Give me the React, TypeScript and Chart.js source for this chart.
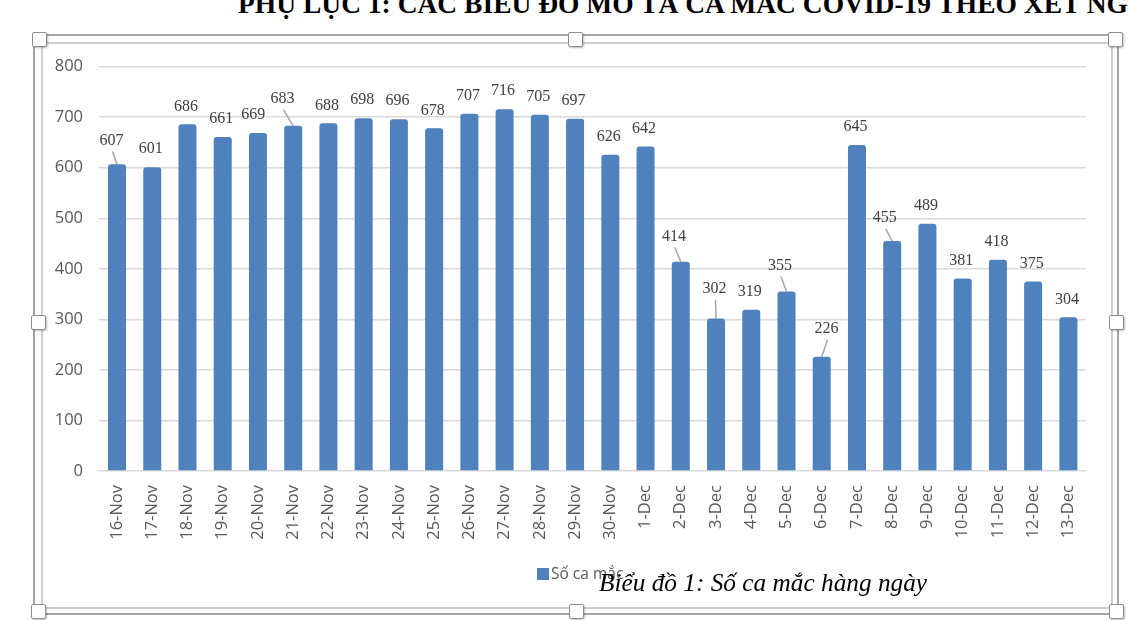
import React, { useEffect, useRef } from "react";
import { Chart, registerables } from "chart.js";

Chart.register(...registerables);

const categories = [
  "16-Nov", "17-Nov", "18-Nov", "19-Nov", "20-Nov", "21-Nov", "22-Nov",
  "23-Nov", "24-Nov", "25-Nov", "26-Nov", "27-Nov", "28-Nov", "29-Nov",
  "30-Nov", "1-Dec", "2-Dec", "3-Dec", "4-Dec", "5-Dec", "6-Dec",
  "7-Dec", "8-Dec", "9-Dec", "10-Dec", "11-Dec", "12-Dec", "13-Dec",
];

const cases = [
  607, 601, 686, 661, 669, 683, 688, 698, 696, 678, 707, 716, 705, 697,
  626, 642, 414, 302, 319, 355, 226, 645, 455, 489, 381, 418, 375, 304,
];

const seriesName = "Số ca mắc";
const yMin = 0;
const yMax = 800;
const yStep = 100;

const titleText = "PHỤ LỤC 1: CÁC BIỂU ĐỒ MÔ TẢ CA MẮC COVID-19 THEO XÉT NGHIỆM";
const captionText = "Biểu đồ 1: Số ca mắc hàng ngày";

// label placement (dx from bar centre, distance above bar top); moved labels get a leader line
const defaultLabelOffset: [number, number] = [-1.5, 19.3];
const movedLabels: Record<number, [number, number]> = {
  0: [-5.4, 24.7],
  4: [-4.7, 19.2],
  5: [-10.7, 28.3],
  16: [-6.9, 26.3],
  17: [-1.5, 30.7],
  19: [-6.5, 27.1],
  20: [4.8, 29],
  22: [-7.5, 24.3],
};
const leaderIdx = new Set([0, 5, 16, 17, 19, 20, 22]);

const BAR_BLUE = "#4f81bd";
const AXIS_TEXT = "#595959";
const GRID = "#d9d9d9";
const SANS = '"Open Sans", "Liberation Sans", sans-serif';
const SERIF = '"Liberation Serif", "Times New Roman", serif';

const W = 1128;
const H = 620;
const PLOT_LEFT = 99.4;
const PLOT_RIGHT = 1086;
const PLOT_TOP = 66.7;
const PLOT_BOTTOM = 471;

const valueLabels = {
  id: "valueLabels",
  afterDatasetsDraw(chart: any) {
    const ctx = chart.ctx;
    const meta = chart.getDatasetMeta(0);
    ctx.save();
    ctx.font = `16px ${SERIF}`;
    ctx.textAlign = "center";
    ctx.textBaseline = "alphabetic";
    meta.data.forEach((bar: any, i: number) => {
      const off = movedLabels[i] ?? defaultLabelOffset;
      const lx = bar.x + off[0];
      const ly = bar.y - off[1];
      if (leaderIdx.has(i)) {
        ctx.strokeStyle = "#a6a6a6";
        ctx.lineWidth = 1.5;
        ctx.beginPath();
        ctx.moveTo(lx + 1, ly + 12);
        ctx.lineTo(bar.x, bar.y);
        ctx.stroke();
      }
      ctx.fillStyle = "#404040";
      ctx.fillText(String(cases[i]), lx, ly + 5.5);
    });
    ctx.restore();
  },
};

function Handle({ x, y }: { x: number; y: number }) {
  return (
    <div
      style={{
        position: "absolute",
        left: x - 7,
        top: y - 7,
        width: 13,
        height: 13,
        background: "#fff",
        border: "1px solid #8f8f8f",
        borderRadius: 2,
        boxShadow: "1px 1px 2px rgba(0,0,0,0.25)",
      }}
    />
  );
}

export default function App() {
  const canvasRef = useRef<HTMLCanvasElement | null>(null);

  useEffect(() => {
    if (!canvasRef.current) return;
    const chart = new Chart(canvasRef.current, {
      type: "bar",
      data: {
        labels: categories,
        datasets: [
          {
            label: seriesName,
            data: cases,
            backgroundColor: BAR_BLUE,
            borderWidth: 0,
            borderRadius: { topLeft: 3, topRight: 3, bottomLeft: 0, bottomRight: 0 },
            borderSkipped: "start",
            barPercentage: 0.511,
            categoryPercentage: 1,
          },
        ],
      },
      options: {
        responsive: false,
        animation: false,
        devicePixelRatio: 1,
        layout: {
          padding: { left: 0, top: PLOT_TOP, right: W - PLOT_RIGHT, bottom: 0 },
        },
        plugins: {
          legend: { display: false },
          tooltip: { enabled: false },
          title: { display: false },
        },
        scales: {
          x: {
            grid: { display: false, drawTicks: false },
            border: { display: false },
            ticks: {
              maxRotation: 90,
              minRotation: 90,
              autoSkip: false,
              padding: 14,
              color: AXIS_TEXT,
              font: { family: SANS, size: 16.5 },
            },
            afterFit: (s: any) => {
              s.height = H - PLOT_BOTTOM;
            },
          },
          y: {
            min: yMin,
            max: yMax,
            grid: { color: GRID, lineWidth: 1.5, drawTicks: false },
            border: { display: false },
            ticks: {
              stepSize: yStep,
              padding: 16.4,
              color: AXIS_TEXT,
              font: { family: SANS, size: 16.5 },
            },
            afterFit: (s: any) => {
              s.width = PLOT_LEFT;
            },
          },
        },
      },
      plugins: [valueLabels],
    });
    return () => chart.destroy();
  }, []);

  return (
    <div
      style={{
        position: "fixed",
        left: 0,
        top: 0,
        width: W,
        height: H,
        overflow: "hidden",
        background: "#fff",
      }}
    >
      <div
        style={{
          position: "absolute",
          left: 238,
          top: -10,
          whiteSpace: "nowrap",
          fontFamily: SERIF,
          fontWeight: "bold",
          fontSize: 27.5,
          lineHeight: "27.5px",
          color: "#000",
        }}
      >
        {titleText}
      </div>
      <canvas
        ref={canvasRef}
        width={W}
        height={H}
        style={{ position: "absolute", left: 0, top: 0, width: W, height: H }}
      />
      {/* frame lines */}
      <div
        style={{
          position: "absolute",
          left: 33,
          top: 34,
          width: 1119 - 33 - 4,
          height: 615 - 34 - 4,
          border: "2px solid #a6a6a6",
        }}
      />
      <div
        style={{
          position: "absolute",
          left: 41,
          top: 42,
          width: 1111 - 41 - 2,
          height: 607 - 42 - 2,
          border: "2px solid #cfcfcf",
        }}
      />
      {/* legend */}
      <div
        style={{
          position: "absolute",
          left: 536.5,
          top: 567.5,
          width: 12,
          height: 12,
          background: BAR_BLUE,
        }}
      />
      <div
        style={{
          position: "absolute",
          left: 551,
          top: 566.2,
          fontFamily: SANS,
          fontSize: 15.5,
          lineHeight: "15.5px",
          color: AXIS_TEXT,
          whiteSpace: "nowrap",
        }}
      >
        {seriesName}
      </div>
      {/* caption */}
      <div
        style={{
          position: "absolute",
          left: 599,
          top: 570,
          fontFamily: SERIF,
          fontStyle: "italic",
          fontSize: 25.3,
          lineHeight: "25.3px",
          color: "#000",
          whiteSpace: "nowrap",
        }}
      >
        {captionText}
      </div>
      {/* selection handles */}
      <Handle x={39} y={39} />
      <Handle x={575} y={39} />
      <Handle x={1115} y={39} />
      <Handle x={38} y={322} />
      <Handle x={1116} y={322} />
      <Handle x={38} y={611} />
      <Handle x={576} y={611} />
      <Handle x={1116} y={611} />
    </div>
  );
}
